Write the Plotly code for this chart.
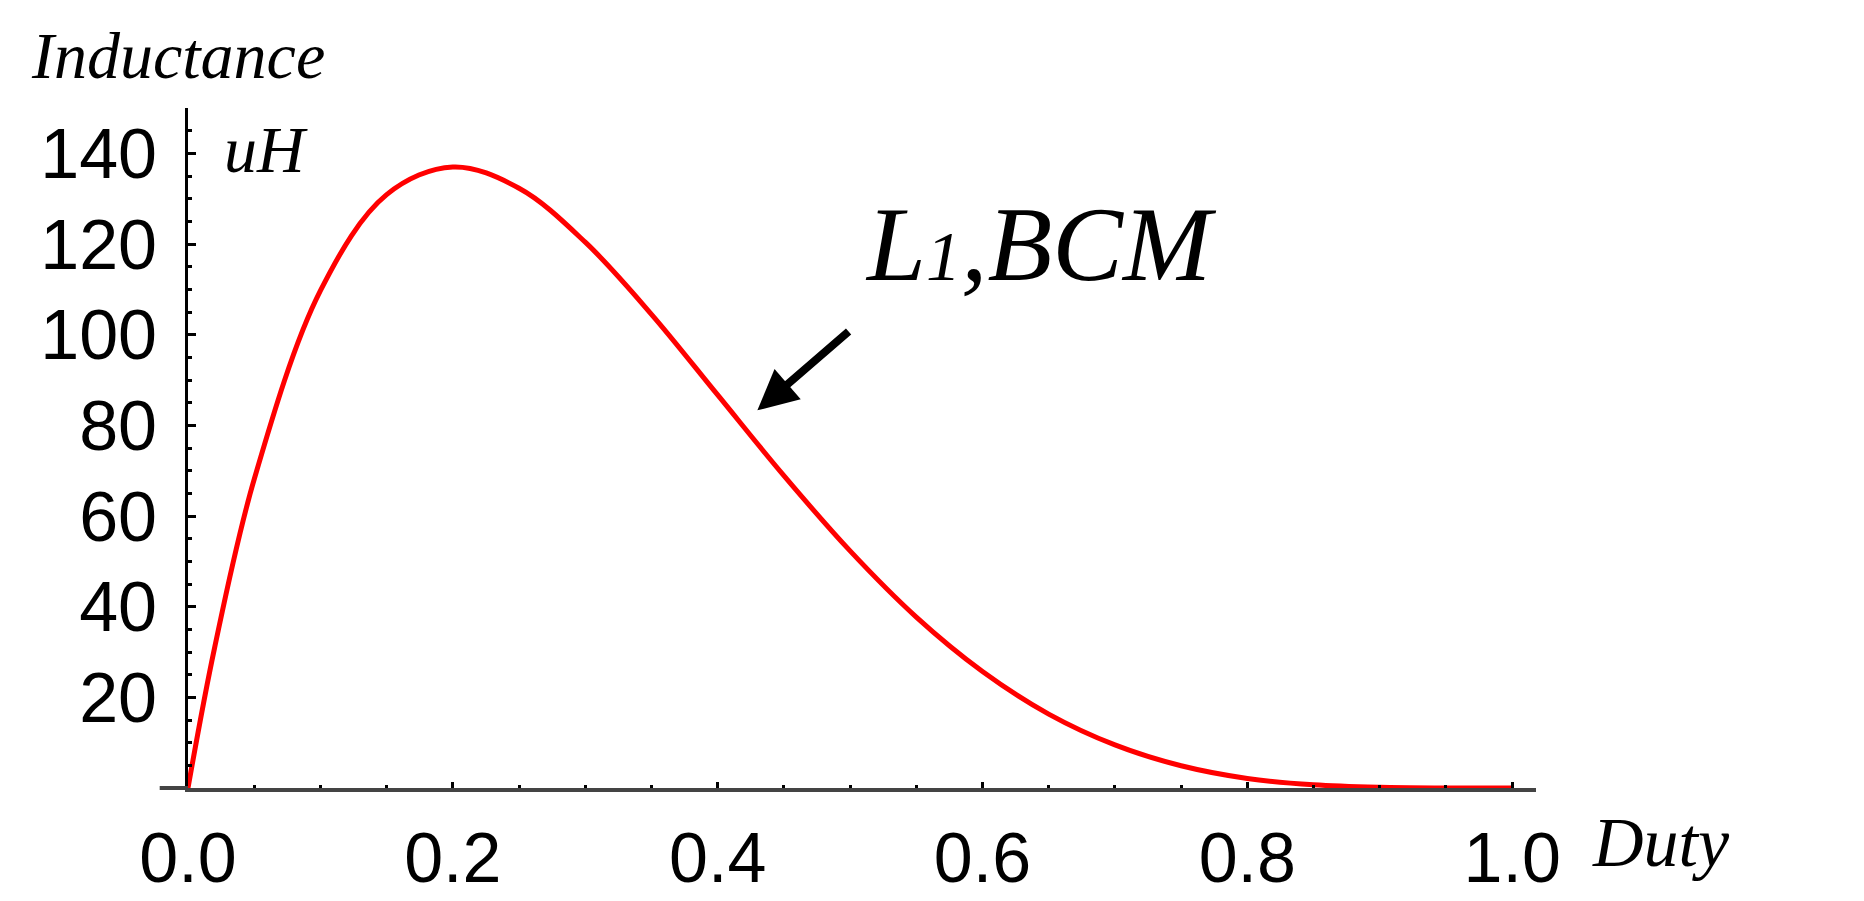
import plotly.graph_objects as go

duty = [0, 0.02, 0.05, 0.1, 0.15, 0.2, 0.25, 0.3, 0.35, 0.4, 0.45, 0.5,
        0.55, 0.6, 0.65, 0.7, 0.75, 0.8, 0.85, 0.9, 0.95, 1.0]
inductance = [0, 30.8, 68.1, 109.7, 130.9, 137, 132.3, 120.4, 104.5, 86.7, 68.9, 52.3,
              37.7, 25.7, 16.3, 9.5, 4.9, 2.1, 0.7, 0.15, 0.01, 0]

serif = 'Liberation Serif'
sans = 'Liberation Sans'

fig = go.Figure(
    go.Scatter(x=duty, y=inductance, mode='lines', line=dict(color='#ff0000', width=5, shape='spline'))
)

fig.update_layout(
    width=1864, height=901,
    margin=dict(l=180, r=336, t=100, b=110),
    plot_bgcolor='white', paper_bgcolor='white',
    showlegend=False,
    font=dict(family=sans, size=70, color='black'),
    xaxis=dict(range=[0, 1.018], tickvals=[0, 0.2, 0.4, 0.6, 0.8, 1.0],
               ticktext=['0.0', '0.2', '0.4', '0.6', '0.8', '1.0'],
               showgrid=False, zeroline=False, showline=True, linecolor='#444', linewidth=4,
               ticks='inside', ticklen=6, tickcolor='black', tickwidth=3,
               minor=dict(ticks='inside', ticklen=3, dtick=0.05, tickcolor='black'),
               ticklabelstandoff=6),
    yaxis=dict(range=[0, 150], tickvals=[20, 40, 60, 80, 100, 120, 140],
               showgrid=False, zeroline=False, showline=True, linecolor='black', linewidth=3,
               ticks='inside', ticklen=8, tickcolor='black', tickwidth=3,
               minor=dict(ticks='inside', ticklen=4, dtick=5, tickcolor='black'),
               ticklabelstandoff=14),
    shapes=[dict(type='line', xref='paper', yref='paper', x0=-0.021, x1=0, y0=0, y1=0,
                 line=dict(color='#444', width=4))],
    annotations=[
        dict(text='<i>Inductance</i>', xref='paper', yref='paper', x=-0.118, y=1.02,
             xanchor='left', yanchor='bottom', showarrow=False, font=dict(family=serif, size=66)),
        dict(text='<i>uH</i>', xref='paper', yref='paper', x=0.025, y=0.995,
             xanchor='left', yanchor='top', showarrow=False, font=dict(family=serif, size=66)),
        dict(text='<i>Duty</i>', xref='paper', yref='paper', x=1.04, y=-0.02,
             xanchor='left', yanchor='top', showarrow=False, font=dict(family=serif, size=70)),
        dict(text="<i>L<span style='font-size:70px'>1</span>,BCM</i>", x=0.51, y=120,
             xanchor='left', yanchor='middle', showarrow=False, font=dict(family=serif, size=106)),
        dict(text='', x=0.43, y=83.3, ax=0.50, ay=101, xref='x', yref='y', axref='x', ayref='y',
             showarrow=True, arrowhead=2, arrowsize=1, arrowwidth=8, arrowcolor='black'),
    ],
)

fig.write_html('out.html')
